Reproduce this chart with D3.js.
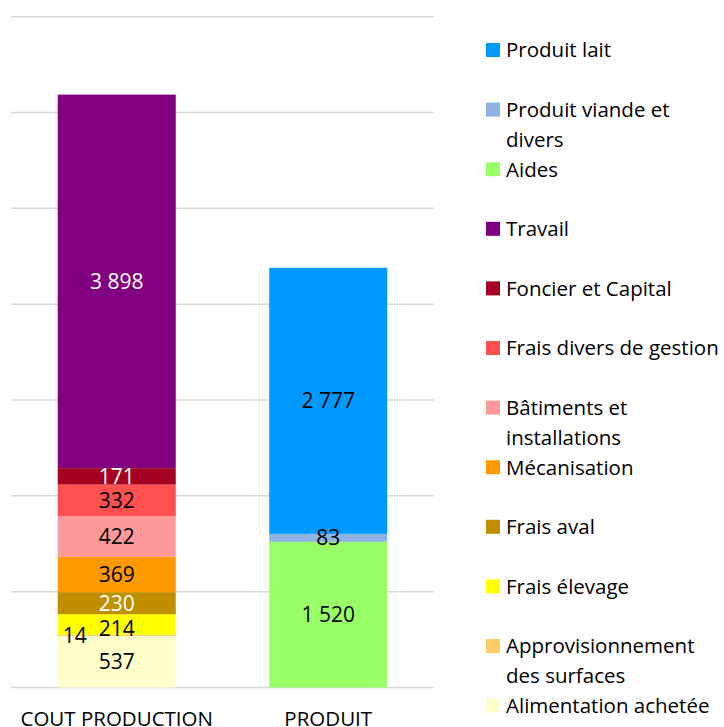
<!DOCTYPE html>
<html><head><meta charset="utf-8">
<script src="https://cdn.jsdelivr.net/npm/d3@7"></script>
<style>body{margin:0;background:#fff}svg{display:block}</style>
</head><body>
<script>
const categories = ["COUT PRODUCTION", "PRODUIT"];
const seriesNames = ["Alimentation achetée","Approvisionnement des surfaces","Frais élevage","Frais aval","Mécanisation","Bâtiments et installations","Frais divers de gestion","Foncier et Capital","Travail","Aides","Produit viande et divers","Produit lait"];
const coutValues = [537, 14, 214, 230, 369, 422, 332, 171, 3898, 0, 0, 0];
const produitValues = [0, 0, 0, 0, 0, 0, 0, 0, 0, 1520, 83, 2777];
const seriesColors = ["#FFFFCC","#FFCC66","#FFFF00","#BF8F00","#FF9900","#FF9999","#FF5050","#A50021","#800080","#99FF66","#8DB4E2","#0099FF"];
const labelColors = ["#000","#000","#000","#fff","#000","#000","#000","#fff","#fff","#000","#000","#000"];
const legendOrder = ["Produit lait","Produit viande et divers","Aides","Travail","Foncier et Capital","Frais divers de gestion","Bâtiments et installations","Mécanisation","Frais aval","Frais élevage","Approvisionnement des surfaces","Alimentation achetée"];
const legendLines = {"Produit viande et divers":["Produit viande et","divers"],"Bâtiments et installations":["Bâtiments et","installations"],"Approvisionnement des surfaces":["Approvisionnement","des surfaces"]};
const yTicks = [0,1000,2000,3000,4000,5000,6000,7000];

const W = 724, H = 727;
const font = "'Open Sans', sans-serif";
const svg = d3.select("body").append("svg").attr("width", W).attr("height", H);

const x = d3.scaleBand().domain(categories).range([11, 434]).paddingInner(0.442).paddingOuter(0.221);
const y = d3.scaleLinear().domain([0, 7000]).range([687.5, 16.7]);

svg.append("g").selectAll("line").data(yTicks).join("line")
  .attr("x1", 11).attr("x2", 434)
  .attr("y1", d => y(d)).attr("y2", d => y(d))
  .attr("stroke", "#d9d9d9").attr("stroke-width", 1.5);

const rows = categories.map((c, i) => {
  const o = {cat: c};
  seriesNames.forEach((s, j) => o[s] = (i === 0 ? coutValues : produitValues)[j]);
  return o;
});
const stack = d3.stack().keys(seriesNames)(rows);

stack.forEach((layer, j) => {
  const g = svg.append("g");
  layer.forEach(seg => {
    const v = seg[1] - seg[0];
    if (v <= 0) return;
    g.append("rect")
      .attr("x", x(seg.data.cat)).attr("width", x.bandwidth())
      .attr("y", y(seg[1])).attr("height", y(seg[0]) - y(seg[1]))
      .attr("fill", seriesColors[j]);
  });
});
stack.forEach((layer, j) => {
  layer.forEach(seg => {
    const v = seg[1] - seg[0];
    if (v <= 0) return;
    let cx = x(seg.data.cat) + x.bandwidth() / 2;
    let cy = y((seg[0] + seg[1]) / 2);
    let anchor = "middle";
    if (seriesNames[j] === "Approvisionnement des surfaces") { cx = x(seg.data.cat) + 5; anchor = "start"; }
    if (seriesNames[j] === "Frais élevage") cy += 4;
    svg.append("text")
      .attr("x", cx).attr("y", cy).attr("dy", "0.36em")
      .attr("text-anchor", anchor)
      .attr("font-family", font).attr("font-size", 21)
      .attr("fill", labelColors[j])
      .text(d3.format(",")(v).replace(/,/g, " "));
  });
});

svg.append("g").selectAll("text").data(categories).join("text")
  .attr("x", d => x(d) + x.bandwidth() / 2).attr("y", 726)
  .attr("text-anchor", "middle")
  .attr("font-family", font).attr("font-size", 20.5).attr("fill", "#000")
  .text(d => d);

const lg = svg.append("g");
legendOrder.forEach((name, i) => {
  const cy = 50 + i * 59.6;
  const j = seriesNames.indexOf(name);
  lg.append("rect").attr("x", 486).attr("y", cy - 7).attr("width", 14).attr("height", 14).attr("fill", seriesColors[j]);
  const lines = legendLines[name] || [name];
  const t = lg.append("text").attr("font-family", font).attr("font-size", 20.5).attr("fill", "#000");
  lines.forEach((l, k) => {
    t.append("tspan").attr("x", 506).attr("y", cy + k * 30).attr("dy", "0.36em").text(l);
  });
});
</script>
</body></html>
